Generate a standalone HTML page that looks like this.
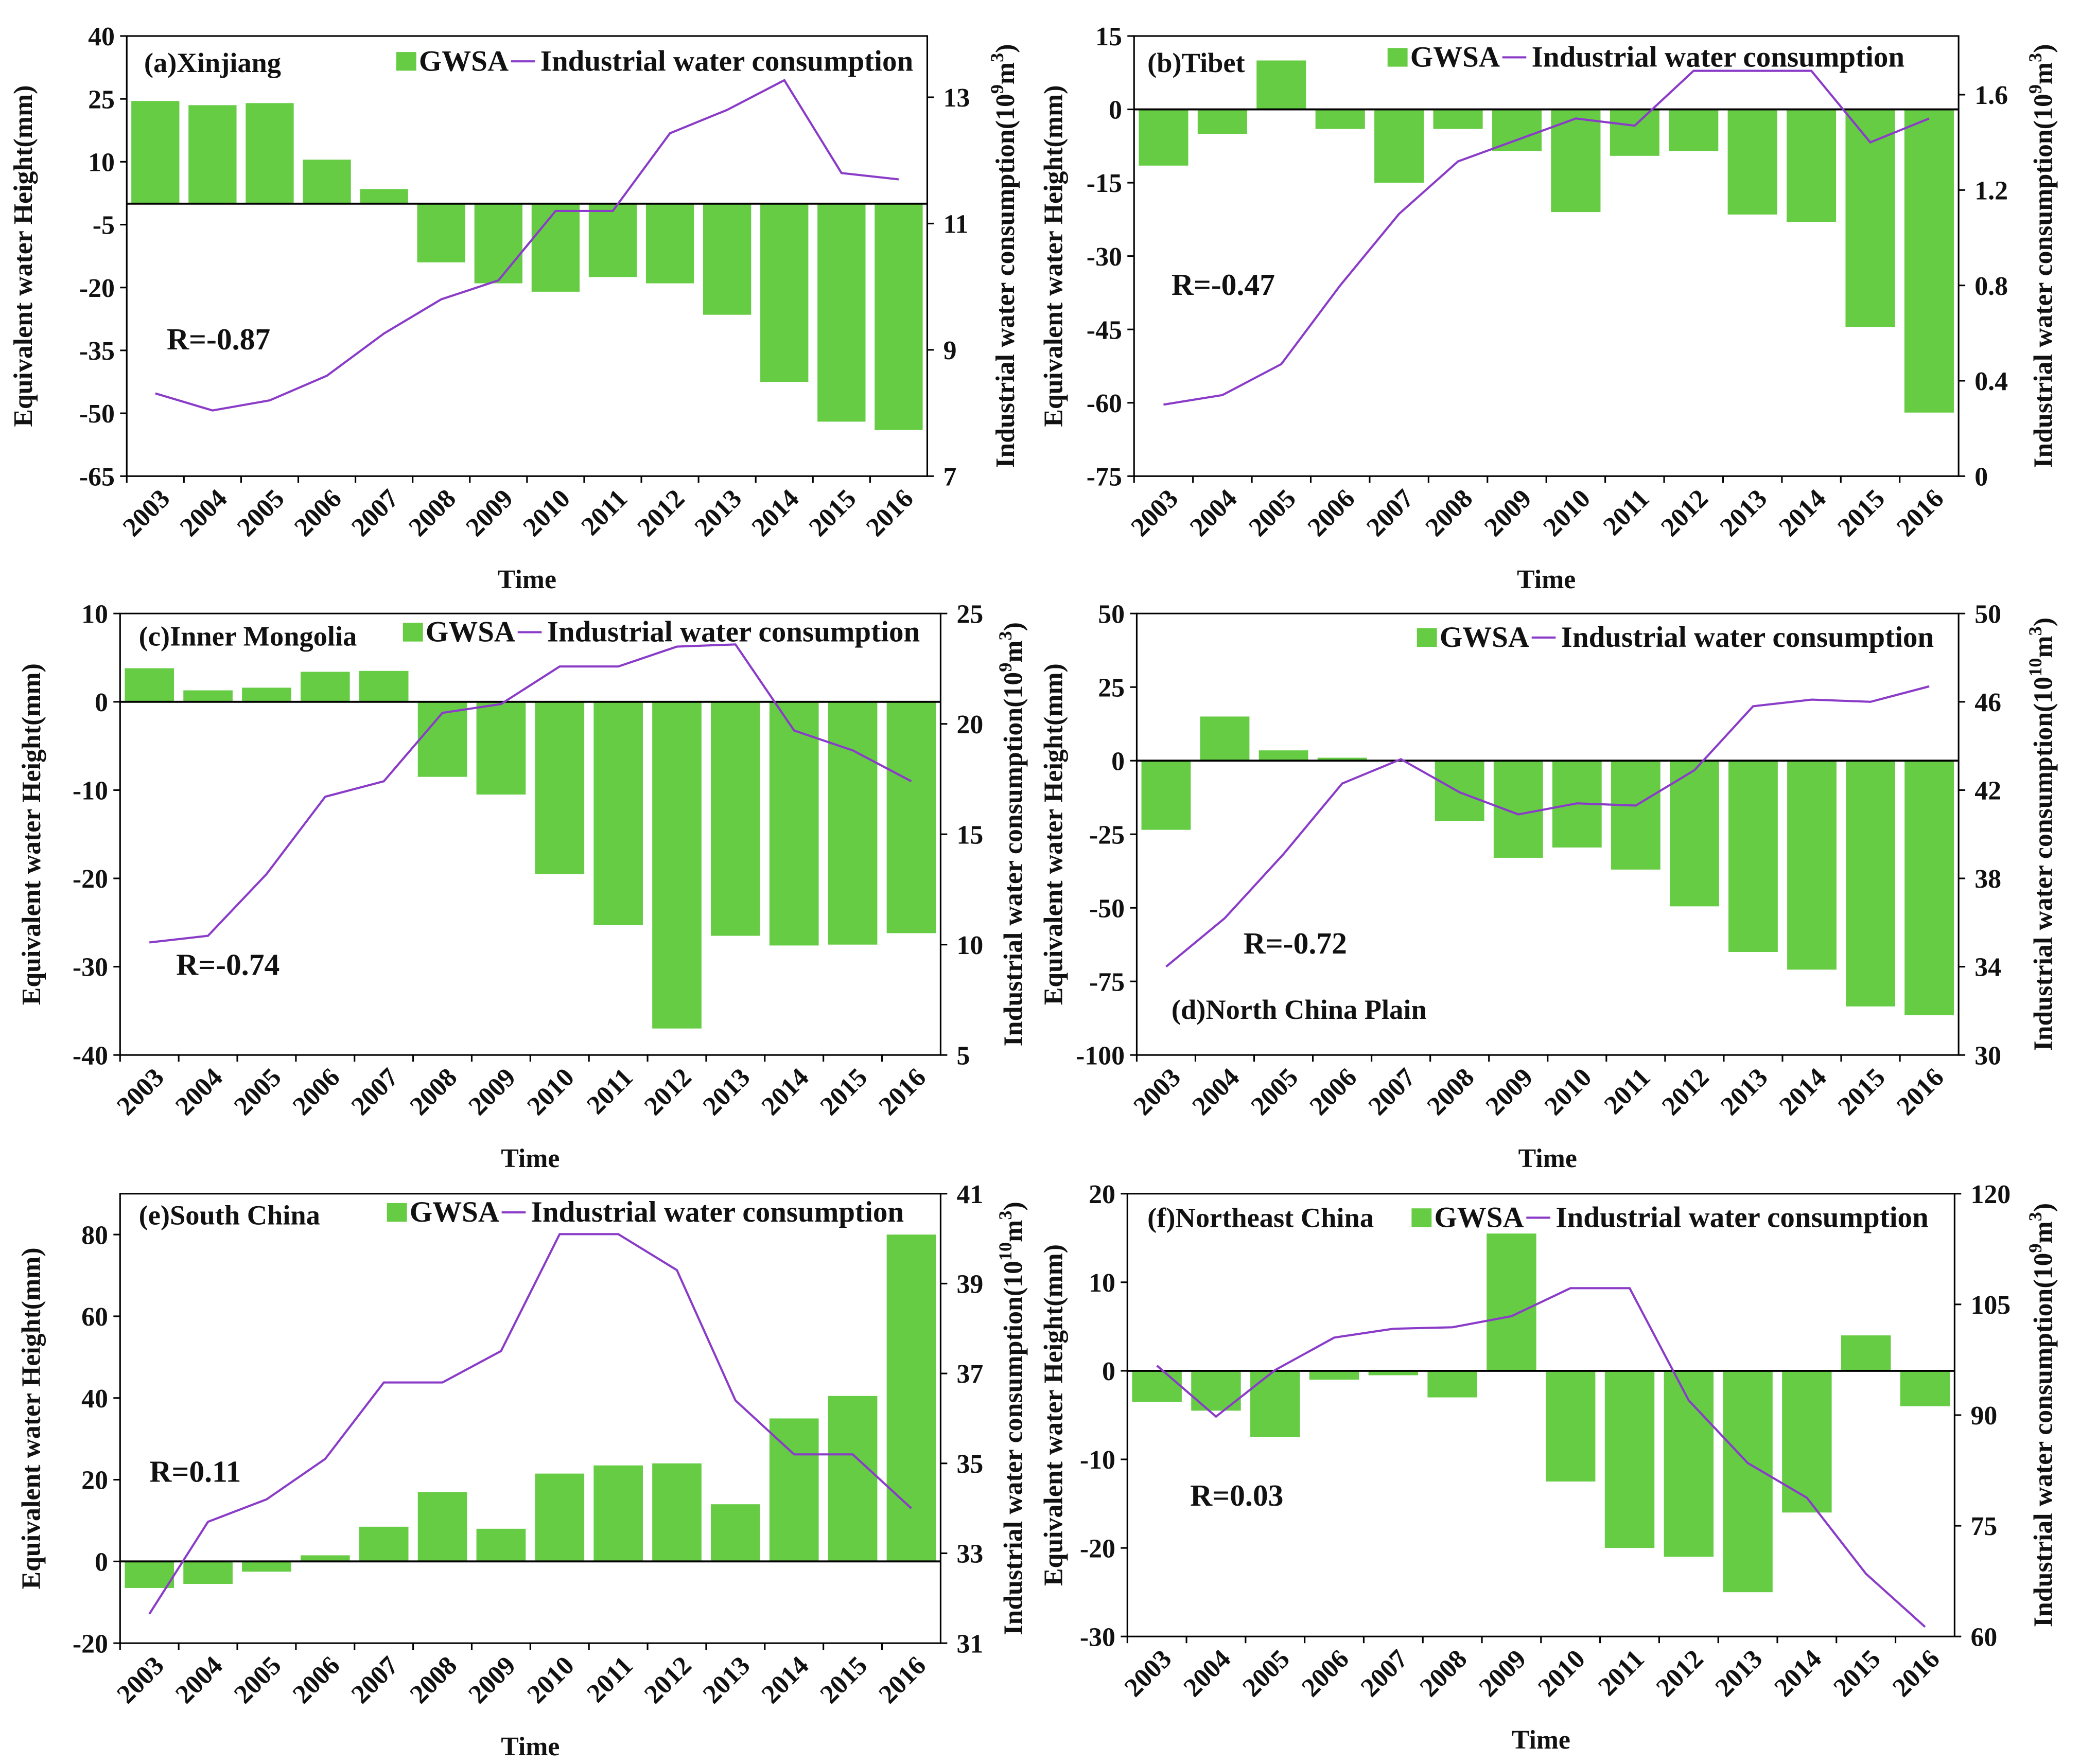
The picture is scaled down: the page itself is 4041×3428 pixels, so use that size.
<!DOCTYPE html>
<html><head><meta charset="utf-8"><style>
html,body{margin:0;padding:0;background:#fff;}
svg{display:block;}
text{font-family:"Liberation Serif",serif;font-weight:bold;fill:#111;}
</style></head><body>
<svg id="chart" width="4041" height="3428" viewBox="0 0 1559 1322.6" preserveAspectRatio="none" xmlns="http://www.w3.org/2000/svg">
<rect width="1559" height="1323" fill="#fff"/>
</svg>
<script>
const years = ["2003","2004","2005","2006","2007","2008","2009","2010","2011","2012","2013","2014","2015","2016"];
const gwsaXinjiang = [24.5,23.5,24,10.5,3.5,-14,-19,-21,-17.5,-19,-26.5,-42.5,-52,-54];
const iwcXinjiang = [8.31,8.04,8.2,8.59,9.26,9.8,10.1,11.2,11.2,12.43,12.8,13.27,11.8,11.7];
const gwsaTibet = [-11.5,-5,10,-4,-15,-4,-8.5,-21,-9.5,-8.5,-21.5,-23,-44.5,-62];
const iwcTibet = [0.30,0.34,0.47,0.80,1.10,1.32,1.41,1.50,1.47,1.70,1.70,1.70,1.40,1.50];
const gwsaInnerMongolia = [3.8,1.3,1.6,3.4,3.5,-8.5,-10.5,-19.5,-25.3,-37,-26.5,-27.6,-27.5,-26.2];
const iwcInnerMongolia = [10.1,10.4,13.2,16.7,17.4,20.5,20.9,22.6,22.6,23.5,23.6,19.7,18.8,17.4];
const gwsaNorthChina = [-23.5,15,3.5,1,0,-20.5,-33,-29.5,-37,-49.5,-65,-71,-83.5,-86.5];
const iwcNorthChina = [34.0,36.2,39.1,42.3,43.4,41.9,40.9,41.4,41.3,42.9,45.8,46.1,46.0,46.7];
const gwsaSouthChina = [-6.5,-5.5,-2.5,1.5,8.5,17,8,21.5,23.5,24,14,35,40.5,80];
const iwcSouthChina = [31.65,33.7,34.2,35.1,36.8,36.8,37.5,40.1,40.1,39.3,36.4,35.2,35.2,34.0];
const gwsaNortheast = [-3.5,-4.5,-7.5,-1,-0.5,-3,15.5,-12.5,-20,-21,-25,-16,4,-4];
const iwcNortheast = [96.7,89.8,96.1,100.5,101.7,101.9,103.4,107.2,107.2,92,83.5,78.8,68.5,61.3];
const leftTicksA=[40,25,10,-5,-20,-35,-50,-65], rightTicksA=[7,9,11,13];
const leftTicksB=[15,0,-15,-30,-45,-60,-75], rightTicksB=[0,0.4,0.8,1.2,1.6];
const leftTicksC=[10,0,-10,-20,-30,-40], rightTicksC=[5,10,15,20,25];
const leftTicksD=[50,25,0,-25,-50,-75,-100], rightTicksD=[30,34,38,42,46,50];
const leftTicksE=[80,60,40,20,0,-20], rightTicksE=[31,33,35,37,39,41];
const leftTicksF=[20,10,0,-10,-20,-30], rightTicksF=[60,75,90,105,120];

const NS="http://www.w3.org/2000/svg";
const svg=document.getElementById('chart');
function mk(tag,attrs,parent,txt){const e=document.createElementNS(NS,tag);for(const k in attrs)e.setAttribute(k,attrs[k]);if(txt!==undefined)e.textContent=txt;(parent||svg).appendChild(e);return e;}

const panels=[
 {id:'a',title:'(a)Xinjiang',tx:108,ty:54,x0:95,x1:695,y0:27,y1:357,lmin:-65,lmax:40,rmin:7,rmax:13.97,lt:leftTicksA,rt:rightTicksA,g:gwsaXinjiang,w:iwcXinjiang,R:'R=-0.87',rx:125,ry:262,leg:297,legY:46,exp:'9',lx:24,rlx:760},
 {id:'b',title:'(b)Tibet',tx:860,ty:54,x0:850,x1:1468,y0:27,y1:357,lmin:-75,lmax:15,rmin:0,rmax:1.846,lt:leftTicksB,rt:rightTicksB,g:gwsaTibet,w:iwcTibet,R:'R=-0.47',rx:878,ry:221,leg:1040,legY:43,exp:'9',lx:796,rlx:1538},
 {id:'c',title:'(c)Inner Mongolia',tx:104,ty:484,x0:90,x1:705,y0:460,y1:791,lmin:-40,lmax:10,rmin:5,rmax:25,lt:leftTicksC,rt:rightTicksC,g:gwsaInnerMongolia,w:iwcInnerMongolia,R:'R=-0.74',rx:132,ry:731,leg:302,legY:474,exp:'9',lx:30,rlx:766},
 {id:'d',title:'(d)North China Plain',tx:878,ty:764,x0:852,x1:1468,y0:460,y1:791,lmin:-100,lmax:50,rmin:30,rmax:50,lt:leftTicksD,rt:rightTicksD,g:gwsaNorthChina,w:iwcNorthChina,R:'R=-0.72',rx:932,ry:715,leg:1062,legY:478,exp:'10',lx:796,rlx:1538},
 {id:'e',title:'(e)South China',tx:104,ty:918,x0:90,x1:705,y0:895,y1:1232,lmin:-20,lmax:90,rmin:31,rmax:41,lt:leftTicksE,rt:rightTicksE,g:gwsaSouthChina,w:iwcSouthChina,R:'R=0.11',rx:112,ry:1111,leg:290,legY:909,exp:'10',lx:30,rlx:766},
 {id:'f',title:'(f)Northeast China',tx:860,ty:920,x0:845,x1:1465,y0:895,y1:1227,lmin:-30,lmax:20,rmin:60,rmax:120,lt:leftTicksF,rt:rightTicksF,g:gwsaNortheast,w:iwcNortheast,R:'R=0.03',rx:892,ry:1129,leg:1058,legY:913,exp:'9',lx:796,rlx:1538}
];

panels.forEach(p=>{
 const grp=mk('g',{});
 
 
 const n=years.length, step=(p.x1-p.x0)/n;
 const xs=i=>p.x0+step*(i+0.5);
 const yl=v=>p.y0+(p.lmax-v)/(p.lmax-p.lmin)*(p.y1-p.y0);
 const yr=v=>p.y0+(p.rmax-v)/(p.rmax-p.rmin)*(p.y1-p.y0);
 p.g.forEach((v,i)=>{
  const y0=yl(0), yv=yl(v);
  const b=mk('rect',{x:xs(i)-step*0.42,y:Math.min(y0,yv),width:step*0.84,height:Math.abs(yv-y0),fill:'#66cc44'},grp);
  
  
 });
 const z=mk('line',{x1:p.x0,x2:p.x1,y1:yl(0),y2:yl(0),stroke:'#000','stroke-width':1.5},grp);
 
 
 const pts=p.w.map((v,i)=>xs(i)+','+yr(v)).join(' ');
 const pl=mk('polyline',{points:pts,fill:'none',stroke:'#8a3cc8','stroke-width':1.6},grp);
 
 
 const fr=mk('rect',{x:p.x0,y:p.y0,width:p.x1-p.x0,height:p.y1-p.y0,fill:'none',stroke:'#000','stroke-width':1.2},grp);
 
 
 p.lt.forEach(v=>{
  mk('line',{x1:p.x0-5,x2:p.x0,y1:yl(v),y2:yl(v),stroke:'#000','stroke-width':1.2},grp);
  const t=mk('text',{x:p.x0-9,y:yl(v)+7,'text-anchor':'end','font-size':20},grp,String(v));
  
  
 });
 p.rt.forEach(v=>{
  mk('line',{x1:p.x1,x2:p.x1+5,y1:yr(v),y2:yr(v),stroke:'#000','stroke-width':1.2},grp);
  const t=mk('text',{x:p.x1+12,y:yr(v)+7,'text-anchor':'start','font-size':20},grp,String(v));
  
  
 });
 years.forEach((yv,i)=>{
  mk('line',{x1:p.x0+step*i,x2:p.x0+step*i,y1:p.y1,y2:p.y1+5,stroke:'#000','stroke-width':1.2},grp);
  const cx=xs(i)+12, cy=p.y1+18;
  const t=mk('text',{x:cx,y:cy,'text-anchor':'end','font-size':20,transform:'rotate(-45 '+cx+' '+cy+')'},grp,yv);
  
  
 });
 const tt=mk('text',{x:(p.x0+p.x1)/2,y:p.y1+84,'text-anchor':'middle','font-size':20},grp,'Time');
 
 
 const cy=(p.y0+p.y1)/2;
 const la=mk('text',{x:p.lx,y:cy,'text-anchor':'middle','font-size':20,transform:'rotate(-90 '+p.lx+' '+cy+')'},grp,'Equivalent water Height(mm)');
 
 
 const ra=mk('text',{x:p.rlx,y:cy,'text-anchor':'middle','font-size':20,transform:'rotate(-90 '+p.rlx+' '+cy+')'},grp);
 
 
 mk('tspan',{},ra,'Industrial water consumption(10');
 mk('tspan',{dy:-8,'font-size':14},ra,p.exp);
 mk('tspan',{dy:8},ra,'m');
 mk('tspan',{dy:-8,'font-size':14},ra,'3');
 mk('tspan',{dy:8},ra,')');
 const ti=mk('text',{x:p.tx,y:p.ty,'font-size':21},grp,p.title);
 
 
 const rl=mk('text',{x:p.rx,y:p.ry,'font-size':23},grp,p.R);
 
 
 const lg=mk('g',{},grp);
 
 
 mk('rect',{x:p.leg,y:p.legY-7,width:15,height:14,fill:'#66cc44'},lg);
 mk('text',{x:p.leg+17,y:p.legY+7,'font-size':22},lg,'GWSA');
 mk('line',{x1:p.leg+86,x2:p.leg+104,y1:p.legY,y2:p.legY,stroke:'#8a3cc8','stroke-width':1.6},lg);
 mk('text',{x:p.leg+108,y:p.legY+7,'font-size':22},lg,'Industrial water consumption');
});
</script>
</body></html>
